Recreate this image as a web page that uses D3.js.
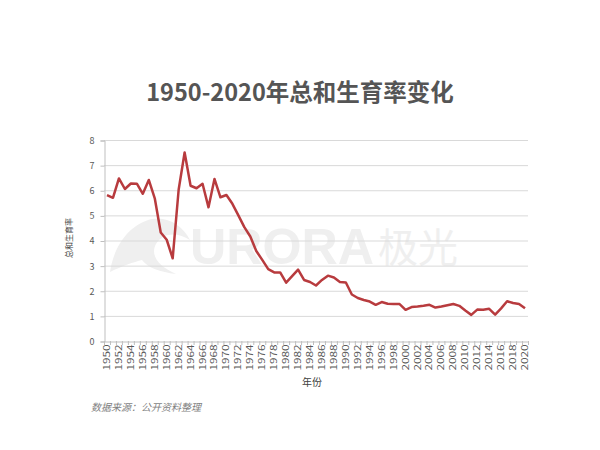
<!DOCTYPE html>
<html>
<head>
<meta charset="utf-8">
<script src="https://cdn.jsdelivr.net/npm/d3@7"></script>
<style>
  html, body { margin: 0; padding: 0; background: #ffffff; }
  svg { display: block; }
</style>
</head>
<body>
<svg id="chart" width="600" height="450"></svg>
<script>
const years = d3.range(1950, 2021);
const tfr = [
  5.81, 5.70, 6.47, 6.05, 6.27, 6.26, 5.86, 6.41, 5.68, 4.32,
  4.03, 3.29, 6.02, 7.50, 6.18, 6.08, 6.26, 5.32, 6.45, 5.72,
  5.81, 5.46, 5.00, 4.53, 4.16, 3.58, 3.23, 2.86, 2.73, 2.73,
  2.32, 2.58, 2.84, 2.43, 2.35, 2.21, 2.43, 2.60, 2.53, 2.35,
  2.33, 1.85, 1.71, 1.63, 1.57, 1.44, 1.55, 1.48, 1.47, 1.47,
  1.24, 1.35, 1.37, 1.40, 1.44, 1.33, 1.37, 1.42, 1.47, 1.40,
  1.21, 1.04, 1.25, 1.24, 1.28, 1.05, 1.30, 1.58, 1.51, 1.47,
  1.30
];
const yTicks = [0, 1, 2, 3, 4, 5, 6, 7, 8];
const xTickLabels = years.filter(y => (y - 1950) % 2 === 0);
const titleText = "1950-2020年总和生育率变化";
const yTitle = "总和生育率";
const xTitle = "年份";
const sourceText = "数据来源：公开资料整理";

(function () {
const svg = d3.select("#chart");
const FONT = "'Noto Sans CJK SC', 'Noto Sans', sans-serif";

const pLeft = 104, pRight = 528, pTop = 140, pBottom = 341;

const x = d3.scaleBand().domain(years).range([pLeft, pRight]).padding(0);
const y = d3.scaleLinear().domain([0, 8]).range([pBottom, pTop]);

// watermark
const wm = svg.append("g").attr("fill", "#efefef");
wm.append("path")
  .attr("d", "M110,272 C114,245 130,224 152,219 C168,216 183,226 190,240 C178,232 163,232 156,244 C150,255 158,266 176,274 C160,272 148,268 142,260 C134,262 122,266 110,272 Z");
wm.append("text")
  .attr("x", 190).attr("y", 264)
  .attr("font-family", "'Liberation Sans', Arial, sans-serif")
  .attr("font-weight", "bold")
  .attr("font-size", 50)
  .attr("textLength", 184)
  .attr("lengthAdjust", "spacingAndGlyphs")
  .text("URORA");
wm.append("text")
  .attr("x", 378).attr("y", 262)
  .attr("font-family", FONT)
  .attr("font-size", 40)
  .text("极光");

// gridlines
svg.append("g")
  .selectAll("line")
  .data(yTicks.filter(d => d > 0))
  .join("line")
  .attr("x1", pLeft).attr("x2", pRight)
  .attr("y1", d => y(d) + 0.5).attr("y2", d => y(d) + 0.5)
  .attr("stroke", "#d9d9d9").attr("stroke-width", 1);

// y axis
const yAxis = d3.axisLeft(y).tickValues(yTicks).tickSize(4).tickPadding(6).tickFormat(d3.format("d"));
const gy = svg.append("g").attr("transform", `translate(${pLeft + 0.5},0.5)`).call(yAxis);
gy.select(".domain").attr("stroke", "#bfbfbf");
gy.selectAll(".tick line").attr("stroke", "#bfbfbf");
gy.selectAll(".tick text").attr("fill", "#595959").attr("font-size", 9).attr("font-family", FONT);

// x axis
const xAxis = d3.axisBottom(x).tickValues(xTickLabels).tickSize(0).tickPadding(0);
const gx = svg.append("g").attr("transform", `translate(0,${pBottom + 0.5})`).call(xAxis);
gx.select(".domain").attr("stroke", "#bfbfbf");
gx.selectAll(".tick text")
  .attr("fill", "#595959").attr("font-size", 8.5).attr("font-family", FONT)
  .attr("transform", "rotate(-90)")
  .attr("text-anchor", "end")
  .attr("textLength", 26)
  .attr("lengthAdjust", "spacingAndGlyphs")
  .attr("x", -3).attr("y", 0).attr("dy", "0.35em");
// category boundary tick marks
svg.append("g")
  .selectAll("line")
  .data(years.concat([2021]))
  .join("line")
  .attr("x1", d => (d === 2021 ? pRight : x(d)) + 0.5)
  .attr("x2", d => (d === 2021 ? pRight : x(d)) + 0.5)
  .attr("y1", pBottom).attr("y2", pBottom + 4)
  .attr("stroke", "#bfbfbf");

// line
const line = d3.line()
  .x((d, i) => x(years[i]) + x.bandwidth() / 2)
  .y(d => y(d));
svg.append("path")
  .datum(tfr)
  .attr("d", line)
  .attr("fill", "none")
  .attr("stroke", "#b83b3e")
  .attr("stroke-width", 2.5)
  .attr("stroke-linejoin", "round");

// titles
svg.append("text")
  .attr("x", 300).attr("y", 101)
  .attr("text-anchor", "middle")
  .attr("font-family", FONT)
  .attr("font-weight", "bold")
  .attr("font-size", 23.5)
  .attr("fill", "#555555")
  .text(titleText);

svg.append("text")
  .attr("transform", "translate(72,238) rotate(-90)")
  .attr("text-anchor", "middle")
  .attr("font-family", FONT)
  .attr("font-size", 8)
  .attr("fill", "#404040")
  .text(yTitle);

svg.append("text")
  .attr("x", 312).attr("y", 386)
  .attr("text-anchor", "middle")
  .attr("font-family", FONT)
  .attr("font-size", 10)
  .attr("fill", "#404040")
  .text(xTitle);

svg.append("text")
  .attr("x", 91).attr("y", 411)
  .attr("font-family", FONT)
  .attr("font-size", 10)
  .attr("font-style", "italic")
  .attr("fill", "#7f7f7f")
  .text(sourceText);
})();
</script>
</body>
</html>
